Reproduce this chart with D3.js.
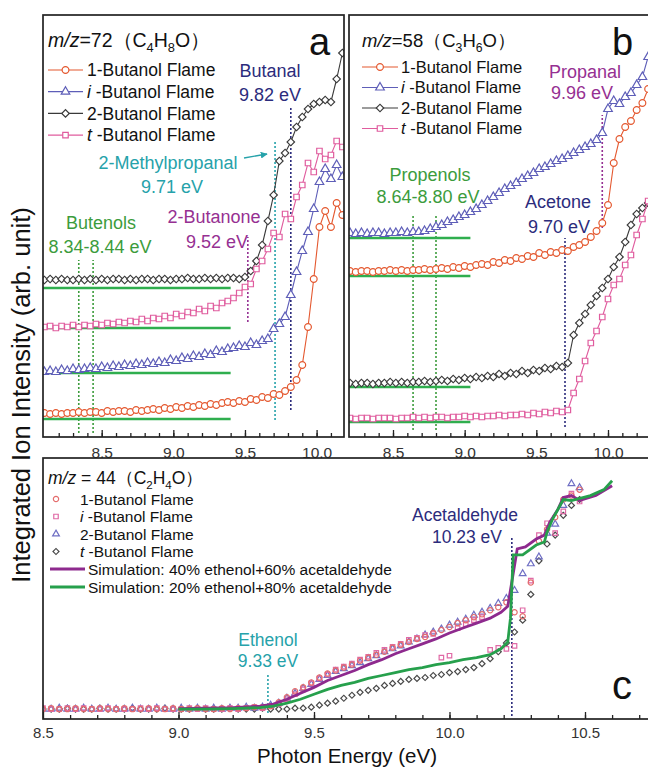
<!DOCTYPE html>
<html lang="en">
<head>
<meta charset="UTF-8">
<title>Integrated ion intensity vs photon energy</title>
<script src="https://d3js.org/d3.v7.min.js"></script>
<style>
  body { margin: 0; background: #fff; }
  svg { display: block; font-family: "Liberation Sans", Arial, Helvetica, sans-serif; }
</style>
</head>
<body>
<svg id="chart" width="648" height="771"></svg>
<script>
// ---------- data (intensities in arbitrary units) ----------

// panel a : m/z = 72
const energyA = [8.10,8.14,8.18,8.22,8.26,8.30,8.34,8.38,8.42,8.46,
  8.50,8.54,8.58,8.62,8.66,8.70,8.74,8.78,8.82,8.86,
  8.90,8.94,8.98,9.02,9.06,9.10,9.14,9.18,9.22,9.26,
  9.30,9.34,9.38,9.42,9.46,9.50,9.54,9.58,9.62,9.66,
  9.70,9.74,9.78,9.82,9.86,9.90,9.94,9.98,10.02,10.06,
  10.10,10.14,10.18];
const oneButanolA = [2.4,2.3,2.4,2.3,2.4,2.4,2.5,2.4,2.5,2.5,
  2.4,2.6,2.5,2.6,2.6,2.5,2.7,2.6,2.7,2.8,
  2.7,2.9,2.8,3.0,2.9,3.1,3.0,3.2,3.1,3.3,
  3.2,3.4,3.5,3.4,3.6,3.5,3.8,3.7,4.0,3.9,
  4.3,4.2,4.6,5.0,5.7,7.2,11.0,15.8,21.0,22.6,
  21.0,23.4,22.2];
const isoButanolA = [6.5,6.6,6.5,6.7,6.6,6.8,6.7,6.8,6.9,6.8,
  7.0,6.9,7.1,7.0,7.2,7.1,7.3,7.2,7.4,7.3,
  7.5,7.4,7.7,7.6,7.9,7.8,8.1,8.0,8.3,8.2,
  8.6,8.5,8.8,8.9,9.1,9.0,9.4,9.2,9.6,9.8,
  10.8,11.3,12.0,14.2,16.5,18.6,20.5,22.8,25.5,26.8,
  25.8,27.2,26.0];
const twoButanolA = [15.7,15.8,15.7,15.8,15.7,15.7,15.8,15.7,15.8,15.7,
  15.8,15.7,15.8,15.8,15.7,15.8,15.7,15.8,15.8,15.7,
  15.8,15.8,15.7,15.8,15.8,15.9,15.8,15.8,15.9,15.8,
  15.9,15.8,15.9,15.9,15.8,16.0,16.6,17.6,19.2,21.6,
  24.2,27.6,28.4,29.5,31.0,32.0,32.8,33.3,33.5,33.7,
  33.5,35.8,38.4];
const tertButanolA = [11.0,11.1,10.9,11.1,11.0,11.2,11.0,11.2,11.1,11.3,
  11.2,11.4,11.3,11.5,11.4,11.6,11.5,11.8,11.6,11.9,
  11.8,12.1,11.9,12.3,12.1,12.5,12.4,12.8,12.6,13.1,
  12.9,13.4,13.6,13.9,14.4,15.0,15.3,16.8,17.6,18.8,
  20.4,20.0,22.3,21.8,24.0,25.2,27.4,26.5,28.6,27.8,
  28.2,29.6,29.0];
const baselinesA = [1.8, 6.4, 10.9, 14.9];
const baselineEndA = 9.40;
const ionEnergiesA = [8.34, 8.44, 9.52, 9.71, 9.82];

// panel b : m/z = 58
const energyB = [8.20,8.24,8.28,8.32,8.36,8.40,8.44,8.48,8.52,8.56,
  8.60,8.64,8.68,8.72,8.76,8.80,8.84,8.88,8.92,8.96,
  9.00,9.04,9.08,9.12,9.16,9.20,9.24,9.28,9.32,9.36,
  9.40,9.44,9.48,9.52,9.56,9.60,9.64,9.68,9.72,9.76,
  9.80,9.84,9.88,9.92,9.96,10.00,10.04,10.08,10.12,10.16,
  10.20,10.24,10.28];
const oneButanolB = [16.6,16.5,16.6,16.6,16.5,16.6,16.6,16.7,16.6,16.7,
  16.6,16.7,16.7,16.8,16.7,16.8,16.9,16.8,17.0,16.9,
  17.1,17.0,17.2,17.3,17.2,17.5,17.4,17.7,17.6,17.9,
  17.8,18.1,18.0,18.4,18.2,18.5,18.4,18.7,18.6,19.0,
  19.2,19.5,20.0,20.6,21.4,23.2,27.4,29.8,31.0,31.6,
  32.7,33.4,34.8];
const isoButanolB = [20.4,20.3,20.4,20.3,20.4,20.4,20.3,20.4,20.4,20.5,
  20.4,20.5,20.5,20.6,20.8,21.0,21.2,21.5,21.7,22.0,
  22.2,22.5,22.8,23.2,23.6,24.0,24.4,24.8,25.1,25.4,
  25.8,26.1,26.4,26.8,27.0,27.3,27.6,27.8,28.1,28.4,
  28.7,29.0,29.3,29.7,30.4,32.8,33.6,33.3,34.0,34.4,
  35.2,36.0,38.0];
const twoButanolB = [5.4,5.3,5.4,5.4,5.3,5.4,5.4,5.5,5.4,5.5,
  5.4,5.5,5.5,5.6,5.5,5.6,5.7,5.6,5.8,5.7,
  5.9,5.8,6.0,5.9,6.1,6.0,6.3,6.1,6.4,6.3,
  6.6,6.4,6.7,6.6,6.9,6.8,7.1,7.0,7.4,10.2,
  11.4,12.3,13.2,14.1,14.9,15.8,17.0,18.0,19.5,21.2,
  22.3,22.9,23.4];
const tertButanolB = [1.9,1.8,1.9,1.9,1.8,1.9,1.9,1.9,1.8,1.9,
  1.9,2.0,1.9,2.0,1.9,2.0,2.0,1.9,2.0,2.0,
  2.1,2.0,2.1,2.0,2.1,2.1,2.2,2.1,2.2,2.2,
  2.3,2.2,2.4,2.3,2.5,2.4,2.6,2.5,2.7,4.4,
  5.8,7.6,9.4,10.6,12.0,13.8,15.2,15.8,17.2,18.2,
  20.2,21.8,23.6];
const baselinesB = [1.5, 5.0, 16.1, 19.9];
const baselineEndB = 9.04;
const ionEnergiesB = [8.64, 8.80, 9.70, 9.96];

// panel c : m/z = 44
const energyC = [8.50,8.53,8.56,8.59,8.62,8.65,8.68,8.71,8.74,8.77,
  8.80,8.83,8.86,8.89,8.92,8.95,8.98,9.01,9.04,9.07,
  9.10,9.13,9.16,9.19,9.22,9.25,9.28,9.31,9.34,9.37,
  9.40,9.43,9.46,9.49,9.52,9.55,9.58,9.61,9.64,9.67,
  9.70,9.73,9.76,9.79,9.82,9.85,9.88,9.91,9.94,9.97,
  10.00,10.03,10.06,10.09,10.12,10.15,10.18,10.21,10.24,10.27,
  10.30,10.33,10.36,10.39,10.42,10.45,10.48];
const oneButanolC = [0.8,0.9,0.8,0.8,0.9,0.8,0.8,0.9,0.8,0.8,
  0.9,0.8,0.8,0.9,0.8,0.8,0.9,0.8,0.8,0.9,
  0.8,0.8,0.9,0.8,0.9,0.9,1.0,1.0,1.1,1.5,
  2.0,2.6,3.0,3.5,4.0,4.4,4.7,5.0,5.3,5.7,
  6.0,6.3,6.6,7.0,7.3,7.6,7.9,8.1,8.5,8.8,
  9.1,9.5,9.8,10.1,10.4,10.8,11.1,11.6,10.6,10.2,
  13.6,17.8,19.0,20.2,22.0,22.4,23.0];
const isoButanolC = [0.9,0.8,0.8,0.9,0.8,0.9,0.8,0.8,0.9,0.8,
  0.8,0.8,0.9,0.8,0.9,0.8,0.8,0.8,0.9,0.8,
  0.9,0.8,0.8,0.9,0.8,0.9,1.0,0.9,1.1,1.3,
  1.8,2.3,2.8,3.4,3.9,4.3,4.8,5.1,5.4,5.8,
  6.1,6.5,6.8,7.1,7.4,7.8,8.0,8.3,8.4,6.0,
  6.2,9.0,9.4,9.8,10.1,6.8,7.0,6.9,7.2,10.8,
  13.8,18.4,19.6,18.6,20.8,22.6,21.8];
const twoButanolC = [0.8,0.8,0.9,0.8,0.8,0.9,0.8,0.8,0.9,0.8,
  0.8,0.9,0.8,0.8,0.9,0.8,0.8,0.9,0.8,0.9,
  0.8,0.9,0.8,0.9,0.9,1.0,0.9,1.0,1.2,1.4,
  1.9,2.4,2.9,3.3,3.8,4.2,4.6,4.9,5.2,5.5,
  5.9,6.2,6.6,6.9,7.2,7.6,7.9,8.3,8.6,8.9,
  9.3,9.6,9.9,10.3,10.6,11.0,11.5,12.0,12.8,14.5,
  15.5,16.2,18.6,19.5,21.4,23.6,23.2];
const tertButanolC = [0.8,0.8,0.8,0.9,0.8,0.8,0.8,0.9,0.8,0.8,
  0.8,0.9,0.8,0.8,0.8,0.9,0.8,0.8,0.8,0.9,
  0.8,0.8,0.8,0.9,0.8,0.8,0.8,0.9,0.8,0.8,
  0.8,0.9,0.9,1.0,1.2,1.4,1.6,1.9,2.2,2.5,
  2.7,2.9,3.2,3.4,3.6,3.8,3.9,4.0,4.2,4.3,
  4.5,4.6,4.8,5.0,5.4,5.9,6.6,7.5,8.6,9.8,
  12.4,15.8,17.5,18.4,20.4,21.4,22.0];
const sim40Energy = [9.00,9.10,9.20,9.30,9.35,9.40,9.45,9.50,9.55,9.60,9.65,9.70,9.75,9.80,9.85,9.90,9.95,10.00,
  10.05,10.10,10.15,10.19,10.215,10.235,10.25,10.28,10.32,10.35,10.37,10.40,10.42,10.45,10.48,10.54,10.60];
const sim40 = [0.85,0.9,0.95,1.1,1.3,1.8,2.4,3.0,3.7,4.2,4.7,5.3,5.8,6.4,6.9,7.4,7.9,8.5,
  9.0,9.5,10.0,10.6,11.2,14.5,17.0,17.2,18.0,18.4,19.7,21.0,22.2,22.4,21.9,22.4,23.4];
const sim20Energy = [9.00,9.10,9.20,9.30,9.35,9.40,9.45,9.50,9.55,9.60,9.65,9.70,9.75,9.80,9.85,9.90,9.95,10.00,
  10.05,10.10,10.15,10.19,10.215,10.225,10.235,10.27,10.32,10.35,10.36,10.38,10.42,10.45,10.52,10.57,10.60];
const sim20 = [0.8,0.8,0.85,0.95,1.1,1.4,1.8,2.3,2.8,3.2,3.5,3.9,4.2,4.5,4.8,5.0,5.3,5.5,
  5.8,6.0,6.3,6.9,7.6,10.0,16.4,16.4,17.4,17.7,18.7,20.0,22.0,21.9,22.4,23.0,23.9];
const ionEnergiesC = [9.33, 10.23];

const majorTicksAB = [8.5, 9.0, 9.5, 10.0];
const majorTicksC = [8.5, 9.0, 9.5, 10.0, 10.5];

// ---------- drawing ----------
const fontStack = '"Liberation Sans", Arial, Helvetica, sans-serif';
const svg = d3.select('#chart');
const defs = svg.append('defs');

const navy = '#2c2c7c', purple = '#963092', teal = '#26a2aa', green = '#3c9c3c', baseGreen = '#2fae4e';

defs.append('marker').attr('id', 'arrowTeal').attr('viewBox', '0 0 10 10')
  .attr('refX', 9).attr('refY', 5).attr('markerWidth', 5).attr('markerHeight', 5).attr('orient', 'auto')
  .append('path').attr('d', 'M0,0L10,5L0,10z').attr('fill', teal);

function symbolPath(shape, size) {
  const type = { circle: d3.symbolCircle, triangle: d3.symbolTriangle, square: d3.symbolSquare, diamond: d3.symbolSquare }[shape];
  return d3.symbol(type, size)();
}

function drawMarkers(g, pts, shape, size, color, fill) {
  g.append('g').selectAll('path').data(pts).join('path')
    .attr('d', symbolPath(shape, size))
    .attr('transform', d => `translate(${d[0]},${d[1]})` + (shape === 'diamond' ? ' rotate(45)' : ''))
    .attr('fill', fill).attr('stroke', color).attr('stroke-width', 1.2);
}

function setupPanel(p) {
  const x = d3.scaleLinear().domain(p.xDomain).range(p.xRange);
  const y = d3.scaleLinear().domain(p.yDomain).range([p.bottom, p.top]);
  defs.append('clipPath').attr('id', 'clip-' + p.id).append('rect')
    .attr('x', p.left).attr('y', p.top).attr('width', p.right - p.left).attr('height', p.bottom - p.top);
  const plot = svg.append('g').attr('clip-path', 'url(#clip-' + p.id + ')');

  const axisG = svg.append('g').attr('transform', `translate(0,${p.bottom})`);
  axisG.append('g').call(d3.axisBottom(x).tickValues(p.minor).tickSize(-4).tickFormat(''));
  axisG.append('g').call(d3.axisBottom(x).tickValues(p.major).tickSize(-7).tickPadding(p.pad).tickFormat(d3.format('.1f')));
  axisG.selectAll('.domain').remove();
  axisG.selectAll('line').attr('stroke', '#222').attr('stroke-width', 1.3);
  axisG.selectAll('text').attr('font-size', p.tickFont).attr('fill', '#333').attr('font-family', fontStack);

  svg.append('rect').attr('x', p.left).attr('y', p.top)
    .attr('width', p.right - p.left).attr('height', p.bottom - p.top)
    .attr('fill', 'none').attr('stroke', '#222').attr('stroke-width', 1.7);
  return { x, y, plot };
}

function dotted(panel, e, v0, v1, color) {
  panel.plot.append('line')
    .attr('x1', panel.x(e)).attr('x2', panel.x(e))
    .attr('y1', panel.y(v0)).attr('y2', panel.y(v1))
    .attr('stroke', color).attr('stroke-width', 1.6).attr('stroke-dasharray', '2,2');
}

function label(cx, cy, lines, color, size, gap) {
  lines.forEach((t, i) => {
    svg.append('text').attr('x', cx[i]).attr('y', cy + i * gap + size * 0.36)
      .attr('text-anchor', 'middle').attr('font-size', size).attr('fill', color).text(t);
  });
}

// m/z header with chemical formula; subscripts are lowered digits
function formula(x, yBase, size, mz, parts) {
  const t = svg.append('text').attr('x', x).attr('y', yBase).attr('font-size', size).attr('fill', '#111');
  t.append('tspan').attr('font-style', 'italic').text('m/z');
  t.append('tspan').text(mz);
  const shift = size * 0.28;
  let lowered = false;
  parts.forEach(([s, sub]) => {
    const ts = t.append('tspan').text(s);
    if (sub) {
      ts.attr('font-size', size * 0.66);
      if (!lowered) { ts.attr('dy', shift); lowered = true; }
    } else if (lowered) {
      ts.attr('dy', -shift); lowered = false;
    }
  });
}

const styles = [
  { pre: '', name: '1-Butanol Flame', color: '#e4582f', shape: 'circle', size: 36 },
  { pre: 'i', name: ' -Butanol Flame', color: '#5e5eb8', shape: 'triangle', size: 32 },
  { pre: '', name: '2-Butanol Flame', color: '#3a3a3a', shape: 'diamond', size: 28 },
  { pre: 't', name: ' -Butanol Flame', color: '#e05c9e', shape: 'square', size: 30 }
];

function drawSeries(panel, energy, sets) {
  sets.forEach((vals, i) => {
    const s = styles[i];
    const pts = energy.map((e, k) => [panel.x(e), panel.y(vals[k])]);
    panel.plot.append('path').datum(pts)
      .attr('d', d3.line()).attr('fill', 'none').attr('stroke', s.color).attr('stroke-width', 1.1);
    drawMarkers(panel.plot, pts, s.shape, s.size, s.color, '#fff');
  });
}

function baselines(panel, levels, start, end) {
  panel.plot.append('g').selectAll('line').data(levels).join('line')
    .attr('x1', panel.x(start)).attr('x2', panel.x(end))
    .attr('y1', d => panel.y(d)).attr('y2', d => panel.y(d))
    .attr('stroke', baseGreen).attr('stroke-width', 2.6);
}

function legend(x0, x1, textX, rows, size) {
  styles.forEach((s, i) => {
    const yy = rows[i];
    svg.append('line').attr('x1', x0).attr('x2', x1).attr('y1', yy).attr('y2', yy)
      .attr('stroke', s.color).attr('stroke-width', 1.2);
    drawMarkers(svg, [[(x0 + x1) / 2, yy]], s.shape, s.size, s.color, '#fff');
    const t = svg.append('text').attr('x', textX).attr('y', yy + size * 0.36).attr('font-size', size).attr('fill', '#111');
    if (s.pre) t.append('tspan').attr('font-style', 'italic').text(s.pre);
    t.append('tspan').text(s.name);
  });
}

// ---- panel a ----
const a = setupPanel({ id: 'a', left: 43, right: 344, top: 15, bottom: 437,
  xDomain: [8.5, 10.0], xRange: [101.7, 316.6], yDomain: [0, 42.2], pad: 10, tickFont: 15.5,
  major: majorTicksAB, minor: d3.range(82, 102).map(d => d / 10) });
dotted(a, ionEnergiesA[0], 0.4, 17.7, green);
dotted(a, ionEnergiesA[1], 0.4, 17.7, green);
dotted(a, ionEnergiesA[2], 11.5, 20.0, purple);
dotted(a, ionEnergiesA[3], 1.7, 29.5, teal);
dotted(a, ionEnergiesA[4], 2.7, 32.9, navy);
baselines(a, baselinesA, 8.0, baselineEndA);
drawSeries(a, energyA, [oneButanolA, isoButanolA, twoButanolA, tertButanolA]);

formula(48, 47, 19.5, '=72', [['（', 0], ['C', 0], ['4', 1], ['H', 0], ['8', 1], ['O', 0], ['）', 0]]);
svg.append('text').attr('x', 309).attr('y', 55).attr('font-size', 38).attr('fill', '#111').text('a');
legend(48, 83, 87, [70, 91.7, 113.4, 135.1], 17.5);
label([270, 270], 71, ['Butanal', '9.82 eV'], navy, 18, 24);
label([168, 172], 163, ['2-Methylpropanal', '9.71 eV'], teal, 18, 24);
label([214, 217], 217, ['2-Butanone', '9.52 eV'], purple, 18, 25);
label([101, 100], 223, ['Butenols', '8.34-8.44 eV'], green, 18, 24);
svg.append('line').attr('x1', 244).attr('y1', 158).attr('x2', 267).attr('y2', 154)
  .attr('stroke', teal).attr('stroke-width', 1.4).attr('marker-end', 'url(#arrowTeal)');

// ---- panel b ----
const b = setupPanel({ id: 'b', left: 349, right: 652, top: 15, bottom: 437,
  xDomain: [8.5, 10.0], xRange: [393, 608], yDomain: [0, 42.2], pad: 10, tickFont: 15.5,
  major: majorTicksAB, minor: d3.range(83, 103).map(d => d / 10) });
dotted(b, ionEnergiesB[0], 0.7, 22.2, green);
dotted(b, ionEnergiesB[1], 0.7, 22.2, green);
dotted(b, ionEnergiesB[2], 1.0, 19.9, navy);
dotted(b, ionEnergiesB[3], 20.9, 32.2, purple);
baselines(b, baselinesB, 8.1, baselineEndB);
drawSeries(b, energyB, [oneButanolB, isoButanolB, twoButanolB, tertButanolB]);

formula(362, 47, 18.5, '=58', [['（', 0], ['C', 0], ['3', 1], ['H', 0], ['6', 1], ['O', 0], ['）', 0]]);
svg.append('text').attr('x', 612).attr('y', 55).attr('font-size', 38).attr('fill', '#111').text('b');
legend(362, 398, 401, [67, 87.5, 108, 128.5], 16.5);
label([585, 582], 72, ['Propanal', '9.96 eV'], purple, 18, 21);
label([430, 428], 175, ['Propenols', '8.64-8.80 eV'], green, 18, 22);
label([558, 559], 202, ['Acetone', '9.70 eV'], navy, 18, 25);

// ---- panel c ----
const c = setupPanel({ id: 'c', left: 43, right: 652, top: 458, bottom: 719,
  xDomain: [8.5, 10.5], xRange: [43, 585], yDomain: [-0.2, 26.2], pad: 8, tickFont: 15,
  major: majorTicksC, minor: d3.range(86, 108).map(d => d / 10) });
dotted(c, ionEnergiesC[0], 0.4, 4.4, teal);
dotted(c, ionEnergiesC[1], 0.1, 18.2, navy);

const cStyles = [
  { vals: oneButanolC, color: '#e46c6c', shape: 'circle', size: 22 },
  { vals: isoButanolC, color: '#e06aa6', shape: 'square', size: 20 },
  { vals: twoButanolC, color: '#6f6fc4', shape: 'triangle', size: 20 },
  { vals: tertButanolC, color: '#4a4a4a', shape: 'diamond', size: 18 }
];
cStyles.slice().reverse().forEach(s => {
  const pts = energyC.map((e, k) => [c.x(e), c.y(s.vals[k])]);
  drawMarkers(c.plot, pts, s.shape, s.size, s.color, 'none');
});
const simLine = d3.line().x(d => c.x(d[0])).y(d => c.y(d[1]));
c.plot.append('path').datum(sim40Energy.map((e, k) => [e, sim40[k]]))
  .attr('d', simLine).attr('fill', 'none').attr('stroke', '#8e2a8e').attr('stroke-width', 2.8);
c.plot.append('path').datum(sim20Energy.map((e, k) => [e, sim20[k]]))
  .attr('d', simLine).attr('fill', 'none').attr('stroke', '#26a04c').attr('stroke-width', 2.8);

formula(48, 484, 17.5, ' = 44', [['（', 0], ['C', 0], ['2', 1], ['H', 0], ['4', 1], ['O', 0], ['）', 0]]);
const cLegendNames = [['', '1-Butanol Flame'], ['i', ' -Butanol Flame'], ['', '2-Butanol Flame'], ['t', ' -Butanol Flame']];
const cRows = [499, 516.5, 534, 551.5, 569, 587];
cStyles.forEach((s, i) => {
  drawMarkers(svg, [[56, cRows[i]]], s.shape, s.size, s.color, 'none');
  const t = svg.append('text').attr('x', 80).attr('y', cRows[i] + 5.6).attr('font-size', 15.5).attr('fill', '#111');
  if (cLegendNames[i][0]) t.append('tspan').attr('font-style', 'italic').text(cLegendNames[i][0]);
  t.append('tspan').text(cLegendNames[i][1]);
});
[['#8e2a8e', 'Simulation: 40% ethenol+60% acetaldehyde'], ['#26a04c', 'Simulation: 20% ethenol+80% acetaldehyde']]
  .forEach(([col, txt], i) => {
    const yy = cRows[4 + i];
    svg.append('line').attr('x1', 50).attr('x2', 85).attr('y1', yy).attr('y2', yy).attr('stroke', col).attr('stroke-width', 2.8);
    svg.append('text').attr('x', 88).attr('y', yy + 5.6).attr('font-size', 15.5).attr('fill', '#111').text(txt);
  });
label([465, 467], 515, ['Acetaldehyde', '10.23 eV'], navy, 17.5, 22);
label([268, 268], 640, ['Ethenol', '9.33 eV'], teal, 17.5, 21);
svg.append('text').attr('x', 612).attr('y', 699).attr('font-size', 40).attr('fill', '#111').text('c');

// ---- shared axis titles ----
svg.append('text').attr('x', 347).attr('y', 763).attr('text-anchor', 'middle')
  .attr('font-size', 20.5).attr('fill', '#111').text('Photon Energy (eV)');
svg.append('text').attr('transform', 'translate(30,395) rotate(-90)').attr('text-anchor', 'middle')
  .attr('font-size', 25.5).attr('fill', '#111').text('Integrated Ion Intensity (arb. unit)');
</script>
</body>
</html>
